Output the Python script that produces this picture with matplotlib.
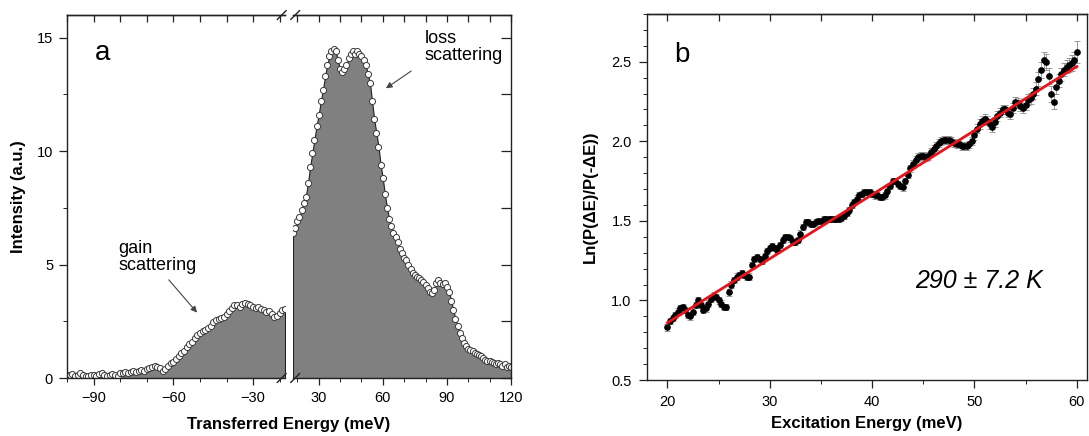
import matplotlib
matplotlib.use("Agg")
import matplotlib.pyplot as plt
from matplotlib.ticker import MultipleLocator

plt.rcParams["font.family"] = ["Liberation Sans", "DejaVu Sans"]

# panel a: gain side (negative energy transfer), 1 meV steps
gain_e = list(range(-100, -17))
gain_i = [
    0.15, 0.12, 0.18, 0.10, 0.15, 0.20, 0.12, 0.08, 0.10, 0.15,
    0.12, 0.10, 0.18, 0.20, 0.15, 0.10, 0.12, 0.18, 0.15, 0.10,
    0.20, 0.22, 0.25, 0.20, 0.28, 0.30, 0.25, 0.30, 0.35, 0.32,
    0.40, 0.45, 0.50, 0.55, 0.50, 0.45, 0.30, 0.40, 0.55, 0.65,
    0.70, 0.85, 0.95, 1.10, 1.20, 1.35, 1.50, 1.60, 1.75, 1.90,
    2.00, 2.05, 2.10, 2.20, 2.30, 2.45, 2.55, 2.60, 2.65, 2.70,
    2.80, 2.95, 3.10, 3.20, 3.20, 3.15, 3.25, 3.30, 3.25, 3.20,
    3.15, 3.10, 3.15, 3.05, 3.00, 2.90, 2.95, 2.80, 2.70, 2.75,
    2.85, 3.00, 3.05,
]

# panel a: loss side (positive energy transfer), 1 meV steps
loss_e = list(range(18, 121))
loss_i = [
    6.4, 6.6, 6.9, 7.1, 7.4, 7.7, 8.0, 8.6, 9.3, 9.9,
    10.5, 11.1, 11.6, 12.2, 12.7, 13.3, 13.8, 14.2, 14.4, 14.5,
    14.4, 14.0, 13.6, 13.5, 13.6, 13.8, 14.1, 14.3, 14.4, 14.3,
    14.4, 14.3, 14.2, 14.0, 13.8, 13.4, 13.0, 12.2, 11.4, 10.8,
    10.2, 9.4, 8.8, 8.1, 7.5, 7.0, 6.7, 6.4, 6.2, 6.0,
    5.7, 5.5, 5.3, 5.2, 5.0, 4.8, 4.65, 4.55, 4.45, 4.4,
    4.3, 4.25, 4.1, 3.95, 3.8, 3.75, 3.9, 4.2, 4.3, 4.2,
    4.15, 4.2, 4.0, 3.8, 3.4, 3.0, 2.6, 2.3, 2.0, 1.75,
    1.55, 1.4, 1.3, 1.25, 1.2, 1.1, 1.05, 1.0, 0.95, 0.9,
    0.8, 0.75, 0.75, 0.7, 0.65, 0.6, 0.65, 0.6, 0.55, 0.6,
    0.5, 0.55, 0.5,
]

# panel b: ln ratio vs excitation energy, 0.25 meV steps from 20 to 60
exc_e = [20 + 0.25 * k for k in range(161)]
ln_ratio = [
    0.83, 0.87, 0.89, 0.91, 0.93, 0.95, 0.96, 0.94,
    0.91, 0.90, 0.93, 0.97, 1.00, 0.97, 0.94, 0.95,
    0.98, 1.01, 1.03, 1.02, 1.00, 0.98, 0.96, 0.96,
    1.05, 1.10, 1.13, 1.15, 1.16, 1.17, 1.16, 1.15,
    1.15, 1.22, 1.26, 1.27, 1.26, 1.25, 1.28, 1.31,
    1.33, 1.34, 1.33, 1.32, 1.35, 1.38, 1.40, 1.40,
    1.39, 1.37, 1.37, 1.38, 1.42, 1.46, 1.49, 1.49,
    1.48, 1.48, 1.49, 1.50, 1.50, 1.51, 1.51, 1.51,
    1.51, 1.51, 1.51, 1.51, 1.52, 1.53, 1.55, 1.57,
    1.60, 1.62, 1.64, 1.66, 1.67, 1.68, 1.68, 1.68,
    1.67, 1.66, 1.66, 1.65, 1.65, 1.66, 1.69, 1.72,
    1.75, 1.75, 1.73, 1.72, 1.71, 1.75, 1.79, 1.83,
    1.86, 1.88, 1.90, 1.91, 1.91, 1.90, 1.91, 1.93,
    1.95, 1.97, 1.99, 2.00, 2.01, 2.01, 2.01, 2.00,
    1.99, 1.98, 1.98, 1.97, 1.97, 1.97, 1.98, 2.00,
    2.04, 2.08, 2.11, 2.13, 2.14, 2.13, 2.11, 2.09,
    2.12, 2.16, 2.18, 2.20, 2.20, 2.18, 2.17, 2.21,
    2.25, 2.24, 2.22, 2.21, 2.23, 2.26, 2.27, 2.30,
    2.33, 2.39, 2.45, 2.51, 2.50, 2.41, 2.30, 2.25,
    2.34, 2.38, 2.42, 2.45, 2.47, 2.48, 2.49, 2.51,
    2.56,
]
ln_err = [
    0.02, 0.02, 0.02, 0.02, 0.02, 0.02, 0.02, 0.02,
    0.02, 0.02, 0.02, 0.02, 0.02, 0.02, 0.02, 0.02,
    0.02, 0.02, 0.02, 0.02, 0.02, 0.02, 0.02, 0.02,
    0.02, 0.02, 0.02, 0.02, 0.02, 0.02, 0.02, 0.02,
    0.02, 0.02, 0.02, 0.02, 0.02, 0.02, 0.02, 0.02,
    0.02, 0.02, 0.02, 0.02, 0.02, 0.02, 0.02, 0.02,
    0.02, 0.02, 0.02, 0.02, 0.02, 0.02, 0.02, 0.02,
    0.02, 0.02, 0.02, 0.02, 0.02, 0.02, 0.02, 0.02,
    0.02, 0.02, 0.02, 0.02, 0.02, 0.02, 0.02, 0.02,
    0.02, 0.02, 0.02, 0.02, 0.02, 0.02, 0.02, 0.02,
    0.02, 0.02, 0.02, 0.02, 0.02, 0.02, 0.02, 0.02,
    0.02, 0.02, 0.02, 0.02, 0.02, 0.02, 0.02, 0.02,
    0.025, 0.025, 0.025, 0.025, 0.025, 0.025, 0.025, 0.025,
    0.025, 0.025, 0.025, 0.025, 0.025, 0.025, 0.025, 0.025,
    0.025, 0.025, 0.025, 0.025, 0.025, 0.025, 0.025, 0.025,
    0.03, 0.03, 0.03, 0.03, 0.03, 0.03, 0.03, 0.03,
    0.03, 0.03, 0.03, 0.03, 0.03, 0.03, 0.03, 0.03,
    0.03, 0.03, 0.03, 0.03, 0.035, 0.035, 0.035, 0.035,
    0.04, 0.045, 0.05, 0.05, 0.05, 0.05, 0.05, 0.05,
    0.04, 0.04, 0.04, 0.04, 0.04, 0.045, 0.05, 0.05,
    0.07,
]
fit_e = [20, 60]
fit_ln = [0.86, 2.47]

W, H = 1089, 436
fig = plt.figure(figsize=(W / 100, H / 100), dpi=100)


def rect(x0, x1, y_top, y_bot):
    return [x0 / W, 1 - y_bot / H, (x1 - x0) / W, (y_bot - y_top) / H]


def top_ticks_in(ax, major, minor):
    # mirrored ticks on the top spine, pointing into the plot
    sec = ax.secondary_xaxis("top")
    sec.xaxis.set_major_locator(MultipleLocator(major))
    sec.xaxis.set_minor_locator(MultipleLocator(minor))
    sec.tick_params(axis="x", which="both", direction="in", length=5, width=0.9,
                    color="#222222", labeltop=False)
    sec.spines["top"].set_linewidth(1.0)
    sec.spines["top"].set_color("#222222")
    return sec


ax1 = fig.add_axes(rect(67, 285, 15, 378))
ax2 = fig.add_axes(rect(293, 511, 15, 378))
axb = fig.add_axes(rect(647, 1087, 14, 380))

FILL = "#808080"
for ax, e, inten in [(ax1, gain_e, gain_i), (ax2, loss_e, loss_i)]:
    ax.fill_between(e, 0, inten, facecolor=FILL, edgecolor="#222222", linewidth=0.8, zorder=1)
    ax.plot(e, inten, linestyle="none", marker="o", markersize=4.4,
            markerfacecolor="white", markeredgecolor="#3a3a3a", markeredgewidth=0.7, zorder=2)
    ax.set_ylim(0, 16)
    ax.tick_params(labelsize=10.5, width=0.9, color="#222222", pad=4)
    for s in ax.spines.values():
        s.set_linewidth(1.0)
        s.set_color("#222222")

ax1.set_xlim(-100, -18)
ax2.set_xlim(18, 120)
ax1.xaxis.set_major_locator(MultipleLocator(30))
ax1.xaxis.set_minor_locator(MultipleLocator(10))
ax2.set_xticks([30, 60, 90, 120])
ax2.xaxis.set_minor_locator(MultipleLocator(10))
ax1.yaxis.set_major_locator(MultipleLocator(5))
ax1.yaxis.set_minor_locator(MultipleLocator(2.5))
ax1.spines["right"].set_visible(False)
ax2.spines["left"].set_visible(False)
ax1.tick_params(axis="x", which="major", direction="out", length=5)
ax1.tick_params(axis="x", which="minor", direction="out", length=3)
ax1.tick_params(axis="y", which="major", direction="out", length=6)
ax1.tick_params(axis="y", which="minor", direction="out", length=3)
ax2.tick_params(axis="x", which="major", direction="out", length=5)
ax2.tick_params(axis="x", which="minor", direction="out", length=3)
ax2.yaxis.set_major_locator(MultipleLocator(2.5))
ax2.tick_params(axis="y", which="major", left=False, labelleft=False, right=True,
                direction="in", length=7)
top_ticks_in(ax1, 10, 10)
top_ticks_in(ax2, 10, 10)

# break marks on the split energy axis
d = 0.012
kw = dict(color="#222222", linewidth=1.0, clip_on=False)
for yy in (0, 1):
    ax1.plot([1 - 0.035, 1 + 0.005], [yy - d, yy + d], transform=ax1.transAxes, **kw)
    ax2.plot([-0.01, 0.03], [yy - d, yy + d], transform=ax2.transAxes, **kw)

ax1.set_ylabel("Intensity (a.u.)", fontsize=12, fontweight="bold", labelpad=8)
fig.text((67 + 511) / 2 / W, 1 - 424 / H, "Transferred Energy (meV)", ha="center", va="center",
         fontsize=12, fontweight="bold")
ax1.text(-89.5, 14.0, "a", fontsize=20, ha="left", va="baseline")
ax1.text(-80.8, 5.35, "gain\nscattering", fontsize=13, ha="left", va="center", linespacing=1.0)
ax1.annotate("", xy=(-50.4, 2.79), xytext=(-62.4, 4.42),
             arrowprops=dict(arrowstyle="-|>", color="#444444", lw=0.8, mutation_scale=9))
ax2.text(79.5, 14.6, "loss\nscattering", fontsize=13, ha="left", va="center", linespacing=1.0)
ax2.annotate("", xy=(60.4, 12.7), xytext=(74.4, 13.6),
             arrowprops=dict(arrowstyle="-|>", color="#444444", lw=0.8, mutation_scale=9))

# panel b
axb.errorbar(exc_e, ln_ratio, yerr=ln_err, fmt="o", markersize=3.8, color="black",
             ecolor="#8a8a8a", elinewidth=0.6, capsize=2.2, capthick=0.6, zorder=2)
axb.plot(fit_e, fit_ln, color="#e8141c", linewidth=2.0, zorder=3)
axb.set_xlim(18, 61)
axb.set_ylim(0.5, 2.8)
axb.xaxis.set_major_locator(MultipleLocator(10))
axb.xaxis.set_minor_locator(MultipleLocator(5))
axb.yaxis.set_major_locator(MultipleLocator(0.5))
axb.yaxis.set_minor_locator(MultipleLocator(0.1))
axb.tick_params(labelsize=10.5, width=0.9, color="#222222", pad=5)
axb.tick_params(axis="both", which="major", direction="out", length=6)
axb.tick_params(axis="both", which="minor", direction="out", length=3)
top_ticks_in(axb, 10, 5)
for s in axb.spines.values():
    s.set_linewidth(1.0)
    s.set_color("#222222")
axb.set_ylabel("Ln(P(\u0394E)/P(-\u0394E))", fontsize=12, fontweight="bold", labelpad=10)
axb.set_xlabel("Excitation Energy (meV)", fontsize=12, fontweight="bold", labelpad=5)
axb.text(20.7, 2.5, "b", fontsize=20, ha="left", va="baseline")
axb.text(50.4, 1.12, "290 \u00b1 7.2 K", fontsize=18, fontstyle="italic", ha="center", va="center")

fig.savefig("out.png", dpi=100, facecolor="white")
